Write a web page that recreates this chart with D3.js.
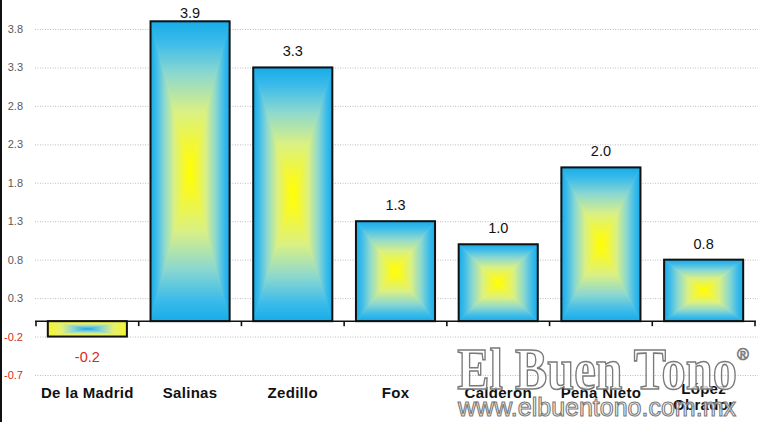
<!DOCTYPE html>
<html>
<head>
<meta charset="utf-8">
<script src="https://cdn.jsdelivr.net/npm/d3@7"></script>
<style>
  html, body { margin: 0; padding: 0; background: #fff; }
  svg { display: block; }
</style>
</head>
<body>
<svg id="chart" width="758" height="422"></svg>
<script>
const categories = ["De la Madrid", "Salinas", "Zedillo", "Fox", "Calderón", "Peña Nieto", "López Obrador"];
const values = [-0.2, 3.9, 3.3, 1.3, 1.0, 2.0, 0.8];
const valueLabels = ["-0.2", "3.9", "3.3", "1.3", "1.0", "2.0", "0.8"];
const tickValues = [-0.7, -0.2, 0.3, 0.8, 1.3, 1.8, 2.3, 2.8, 3.3, 3.8];
const tickLabels = ["-0.7", "-0.2", "0.3", "0.8", "1.3", "1.8", "2.3", "2.8", "3.3", "3.8"];

const W = 758, H = 422;
const svg = d3.select("#chart");

const x = d3.scaleBand().domain(categories).range([36, 755]).paddingInner(0.23).paddingOuter(0.115);
const y = d3.scaleLinear().domain([-0.7, 3.8]).range([375, 29]);

// gradients (box gradient from centre)
const defs = svg.append("defs");
const stopsPos = [
  [0, "#17ace8"], [0.14, "#3bbbea"], [0.35, "#8cd8cf"], [0.6, "#d9f085"], [0.85, "#f6f82c"], [1, "#ffff00"]
];
const stopsNeg = [
  [0, "#f6f52a"], [0.35, "#e4f172"], [0.65, "#8ad4d8"], [1, "#1ea9e6"]
];
const dirs = {
  top: [0, 0, 0, 1], bottom: [0, 1, 0, 0], left: [0, 0, 1, 0], right: [1, 0, 0, 0]
};
function makeGrad(id, stops, d) {
  const g = defs.append("linearGradient").attr("id", id)
    .attr("x1", d[0]).attr("y1", d[1]).attr("x2", d[2]).attr("y2", d[3]);
  stops.forEach(s => g.append("stop").attr("offset", s[0]).attr("stop-color", s[1]));
}
Object.keys(dirs).forEach(k => {
  makeGrad("pos-" + k, stopsPos, dirs[k]);
  makeGrad("neg-" + k, stopsNeg, dirs[k]);
});

// left border line
svg.append("line").attr("x1", 1).attr("x2", 1).attr("y1", 0).attr("y2", H)
  .attr("stroke", "#111").attr("stroke-width", 2);

// gridlines
svg.append("g").selectAll("line").data(tickValues).join("line")
  .attr("x1", 35).attr("x2", W)
  .attr("y1", d => y(d) + 0.5).attr("y2", d => y(d) + 0.5)
  .attr("stroke", "#bdbdbd").attr("stroke-width", 1).attr("stroke-dasharray", "1,1.5");

// tick labels
svg.append("g").selectAll("text").data(tickValues).join("text")
  .attr("x", 23).attr("y", d => y(d) + 4)
  .attr("text-anchor", "end")
  .attr("font-family", "Liberation Sans, Arial, sans-serif")
  .attr("font-size", 11)
  .attr("fill", d => d < 0 ? "#d42a20" : "#5a5a5a")
  .text((d, i) => tickLabels[i]);

// bars
const barsG = svg.append("g");
categories.forEach((c, i) => {
  const v = values[i];
  const x0 = x(c), x1 = x(c) + x.bandwidth();
  const yTop = Math.min(y(v), y(0)), yBot = Math.max(y(v), y(0));
  const cx = (x0 + x1) / 2, cy = (yTop + yBot) / 2;
  const pre = v < 0 ? "neg-" : "pos-";
  const g = barsG.append("g");
  const tris = {
    top: [[x0, yTop], [x1, yTop], [cx, cy]],
    bottom: [[x0, yBot], [x1, yBot], [cx, cy]],
    left: [[x0, yTop], [x0, yBot], [cx, cy]],
    right: [[x1, yTop], [x1, yBot], [cx, cy]]
  };
  ["left", "right", "top", "bottom"].forEach(k => {
    g.append("polygon")
      .attr("points", tris[k].map(p => p.join(",")).join(" "))
      .attr("fill", "url(#" + pre + k + ")")
      .attr("stroke", "url(#" + pre + k + ")")
      .attr("stroke-width", 0.8);
  });
  g.append("rect").attr("x", x0).attr("y", yTop)
    .attr("width", x1 - x0).attr("height", yBot - yTop)
    .attr("fill", "none").attr("stroke", "#111").attr("stroke-width", 2);
});

// axis baseline with ticks
const axisG = svg.append("g");
axisG.append("line").attr("x1", 35).attr("x2", 756).attr("y1", y(0)).attr("y2", y(0))
  .attr("stroke", "#111").attr("stroke-width", 1.6);
const bounds = categories.map(c => x(c) - x.step() * x.paddingOuter());
bounds.push(x.range()[1]);
axisG.selectAll("line.tk").data(bounds).join("line").attr("class", "tk")
  .attr("x1", d => d).attr("x2", d => d)
  .attr("y1", y(0)).attr("y2", y(0) + 5)
  .attr("stroke", "#111").attr("stroke-width", 1.6);

// value labels
svg.append("g").selectAll("text").data(values).join("text")
  .attr("x", (d, i) => x(categories[i]) + x.bandwidth() / 2)
  .attr("y", d => d < 0 ? y(d) + 25 : Math.max(y(d) - 11, 18))
  .attr("text-anchor", "middle")
  .attr("font-family", "Liberation Sans, Arial, sans-serif")
  .attr("font-size", 14.5)
  .attr("fill", d => d < 0 ? "#e0261e" : "#111")
  .text((d, i) => valueLabels[i]);

// category labels
const catG = svg.append("g");
categories.forEach((c, i) => {
  const cx = x(c) + x.bandwidth() / 2;
  const parts = c === "López Obrador" ? ["López", "Obrador"] : [c];
  const t = catG.append("text")
    .attr("text-anchor", "middle")
    .attr("font-family", "Liberation Sans, Arial, sans-serif")
    .attr("font-size", 15).attr("font-weight", "bold")
    .attr("letter-spacing", 0.3)
    .attr("fill", "#111");
  if (parts.length === 1) {
    t.attr("x", cx).attr("y", 398).text(parts[0]);
  } else {
    parts.forEach((p, j) => t.append("tspan").attr("x", cx).attr("y", 394 + j * 16).text(p));
  }
});

// watermark
const wm = svg.append("g").attr("pointer-events", "none");
wm.append("text")
  .attr("transform", "translate(597,389) scale(1.1,1.35)")
  .attr("text-anchor", "middle")
  .attr("font-family", "Liberation Serif, serif")
  .attr("font-weight", "bold")
  .attr("font-size", 44)
  .attr("fill", "#ffffff").attr("fill-opacity", 0.78)
  .attr("stroke", "#7a7a7a").attr("stroke-width", 1.2)
  .text("El Buen Tono");
wm.append("text")
  .attr("x", 743).attr("y", 360)
  .attr("text-anchor", "middle")
  .attr("font-family", "Liberation Sans, Arial, sans-serif")
  .attr("font-size", 16)
  .attr("fill", "#fff").attr("stroke", "#7a7a7a").attr("stroke-width", 0.8)
  .text("®");
wm.append("text")
  .attr("x", 597).attr("y", 416)
  .attr("text-anchor", "middle")
  .attr("font-family", "Liberation Sans, Arial, sans-serif")
  .attr("font-size", 25)
  .attr("fill", "#ffffff").attr("fill-opacity", 0.75)
  .attr("stroke", "#7a7a7a").attr("stroke-width", 1.1)
  .text("www.elbuentono.com.mx");
</script>
</body>
</html>
